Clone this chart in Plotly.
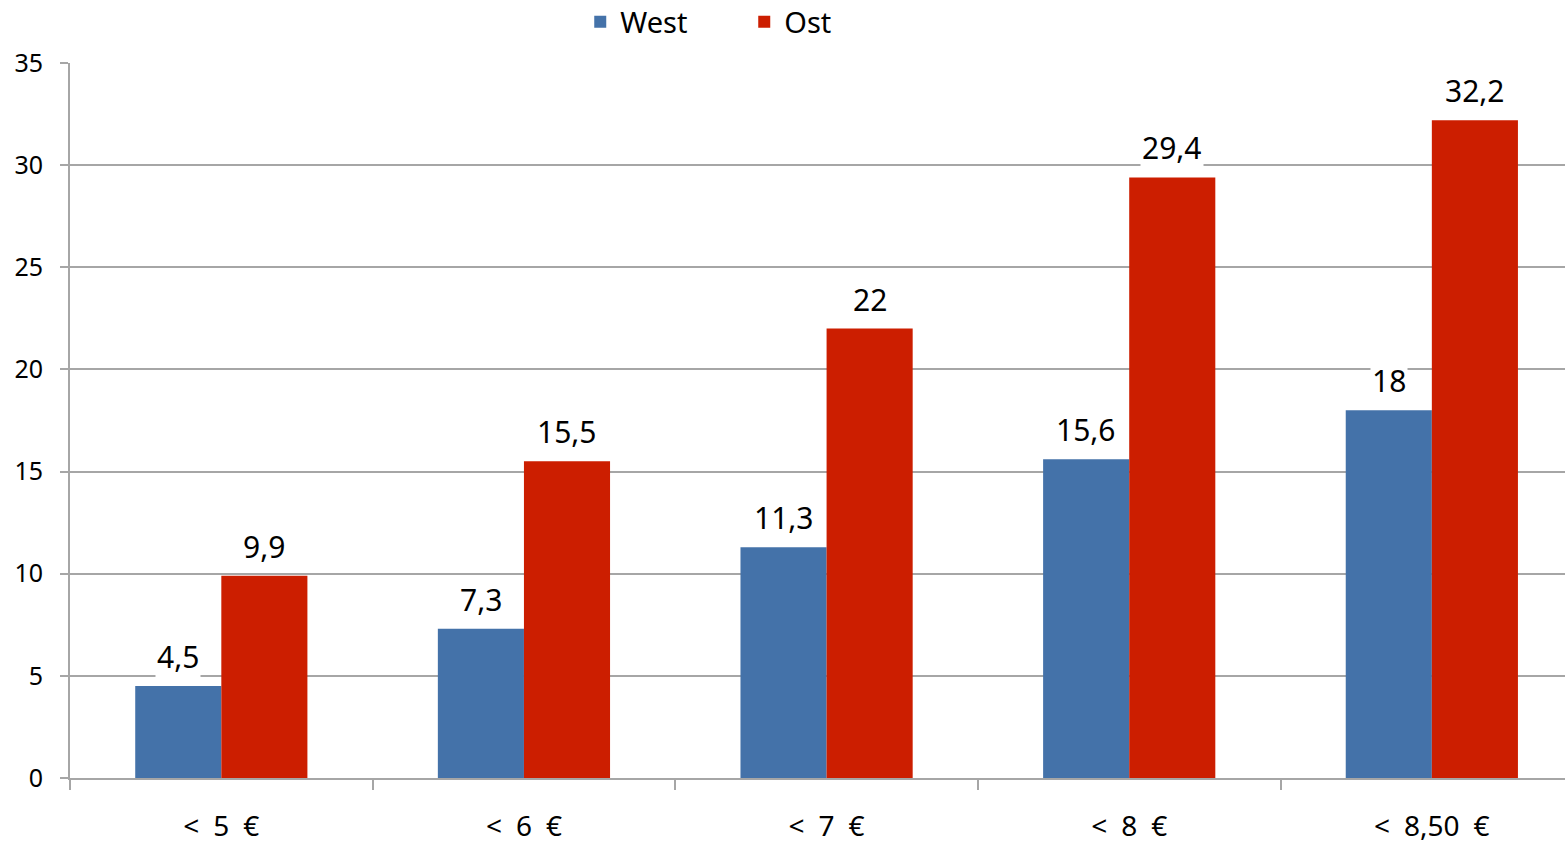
import plotly.graph_objects as go

categories = ["< 5 €", "< 6 €", "< 7 €", "< 8 €", "< 8,50 €"]
west = [4.5, 7.3, 11.3, 15.6, 18]
ost = [9.9, 15.5, 22, 29.4, 32.2]
y_ticks = [0, 5, 10, 15, 20, 25, 30, 35]

WEST_COLOR = "#4472A9"
OST_COLOR = "#CC1E00"
GRID = "#A6A6A6"
FONT = "Noto Sans"

# wider spacing inside the category labels
labels = [c.replace(" ", "\u2002") for c in categories]


def fmt(v):
    return f"{v:g}".replace(".", ",")


fig = go.Figure()
fig.add_trace(go.Bar(name="West", x=labels, y=west, marker_color=WEST_COLOR,
                     marker_line_width=0))
fig.add_trace(go.Bar(name="Ost", x=labels, y=ost, marker_color=OST_COLOR,
                     marker_line_width=0))

# value labels with white boxes sitting above each bar
annotations = []
for cat, wv, ov in zip(labels, west, ost):
    for val, shift in ((wv, -43), (ov, 43)):
        annotations.append(dict(
            x=cat, y=val, xref="x", yref="y", text=fmt(val), showarrow=False,
            xshift=shift, yanchor="bottom", yshift=7, bgcolor="white",
            borderpad=1, font=dict(family=FONT, size=30, color="black")))

fig.update_layout(
    width=1565, height=846,
    margin=dict(l=70, r=0, t=63, b=68, autoexpand=False),
    paper_bgcolor="white", plot_bgcolor="white",
    barmode="group", bargap=0.431, bargroupgap=0,
    font=dict(family=FONT, size=25, color="black"),
    legend=dict(orientation="h", x=0.451, xanchor="center",
                y=1 - 22 / 846, yanchor="middle", yref="container",
                font=dict(family=FONT, size=29), entrywidth=119,
                traceorder="normal", bgcolor="rgba(0,0,0,0)"),
    annotations=annotations,
    showlegend=True,
)

fig.update_xaxes(
    type="category", range=[-0.5, 4.44], automargin=False,
    showline=True, linecolor=GRID, linewidth=2,
    ticks="outside", tickson="boundaries", ticklen=10, tickcolor=GRID, tickwidth=2,
    tickfont=dict(family=FONT, size=28), showgrid=False, ticklabelstandoff=22,
)
fig.update_yaxes(
    range=[0, 35], tickvals=y_ticks, ticktext=[str(t) for t in y_ticks],
    automargin=False,
    showline=True, linecolor=GRID, linewidth=2,
    ticks="outside", ticklen=8, tickcolor=GRID, tickwidth=2,
    showgrid=True, gridcolor=GRID, gridwidth=2, zeroline=False,
    tickfont=dict(family=FONT, size=25), ticklabelstandoff=12,
)

fig.write_html("out.html")
